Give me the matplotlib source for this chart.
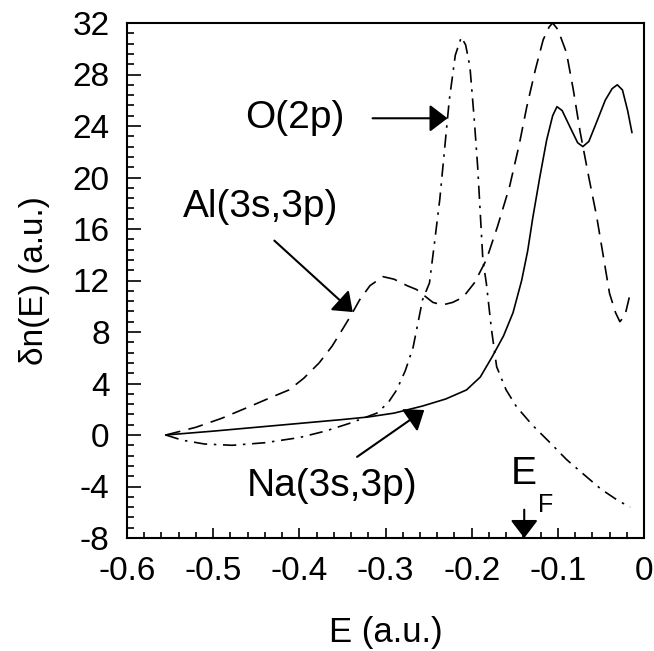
import matplotlib
matplotlib.use("Agg")
import matplotlib.pyplot as plt
from matplotlib.ticker import MultipleLocator

plt.rcParams['font.family'] = ['Liberation Sans', 'DejaVu Sans']

# Na(3s,3p) - solid
na_x = [-0.555, -0.50, -0.45, -0.40, -0.35, -0.32, -0.29, -0.257, -0.23, -0.206,
        -0.19, -0.176, -0.163, -0.152, -0.142, -0.135, -0.129, -0.121, -0.113,
        -0.106, -0.101, -0.095, -0.085, -0.077, -0.071, -0.064, -0.055, -0.045,
        -0.037, -0.031, -0.025, -0.019, -0.014]
na_y = [0.0, 0.3, 0.6, 0.9, 1.2, 1.4, 1.7, 2.25, 2.8, 3.5,
        4.5, 6.1, 7.7, 9.5, 12.0, 14.3, 16.9, 20.0, 22.9,
        24.8, 25.5, 25.2, 23.8, 22.7, 22.4, 22.8, 24.3, 26.0,
        26.9, 27.2, 26.8, 25.2, 23.5]

# Al(3s,3p) - dashed
al_x = [-0.555, -0.52, -0.49, -0.458, -0.43, -0.412, -0.395, -0.377, -0.362, -0.35,
        -0.34, -0.33, -0.318, -0.303, -0.29, -0.275, -0.264, -0.245, -0.234, -0.222,
        -0.21, -0.197, -0.183, -0.17, -0.156, -0.145, -0.136, -0.126, -0.117, -0.11,
        -0.106, -0.10, -0.09, -0.082, -0.074, -0.064, -0.055, -0.047, -0.04, -0.033,
        -0.028, -0.022, -0.016]
al_y = [0.0, 0.6, 1.3, 2.2, 3.0, 3.5, 4.4, 5.6, 6.9, 8.2,
        9.3, 10.5, 11.6, 12.3, 12.1, 11.6, 11.3, 10.3, 10.1, 10.3,
        10.7, 11.8, 13.6, 16.2, 19.3, 22.5, 25.5, 28.4, 30.7, 31.7,
        32.0, 31.5, 29.7, 26.8, 23.5, 20.0, 17.0, 13.8, 11.0, 9.5,
        8.8, 9.3, 11.0]

# O(2p) - dash-dot
o_x = [-0.555, -0.536, -0.51, -0.478, -0.44, -0.40, -0.37, -0.342, -0.31, -0.297,
       -0.287, -0.277, -0.268, -0.257, -0.249, -0.243, -0.237, -0.231, -0.226, -0.219,
       -0.212, -0.207, -0.202, -0.197, -0.193, -0.187, -0.183, -0.177, -0.171, -0.16,
       -0.148, -0.13, -0.109, -0.09, -0.071, -0.05, -0.03, -0.016]
o_y = [0.0, -0.4, -0.7, -0.8, -0.6, -0.2, 0.3, 0.9, 1.7, 2.5,
       3.5, 5.0, 6.8, 10.5, 11.8, 15.0, 18.3, 22.5, 26.0, 29.5,
       30.9, 30.3, 28.6, 24.5, 20.8, 13.6, 11.8, 8.2, 5.3, 3.5,
       2.2, 0.8, -0.6, -1.9, -3.0, -4.2, -5.1, -5.6]

x_ticks = [-0.6, -0.5, -0.4, -0.3, -0.2, -0.1, 0.0]
x_ticklabels = ["-0.6", "-0.5", "-0.4", "-0.3", "-0.2", "-0.1", "0"]
y_ticks = [-8, -4, 0, 4, 8, 12, 16, 20, 24, 28, 32]
y_ticklabels = ["-8", "-4", "0", "4", "8", "12", "16", "20", "24", "28", "32"]
fermi_energy = -0.139

fig = plt.figure(figsize=(6.54, 6.51), dpi=100)
ax = fig.add_axes([127/654, 1-538/651, (644-127)/654, (538-23)/651])

lw = 1.2
ax.plot(na_x, na_y, color='black', lw=lw, linestyle='-')
ax.plot(al_x, al_y, color='black', lw=lw, linestyle=(0, (9, 5)))
ax.plot(o_x, o_y, color='black', lw=lw, linestyle=(0, (8, 4, 1.5, 4)))

ax.set_xlim(-0.6, 0.0)
ax.set_ylim(-8, 32)
ax.set_xticks(x_ticks)
ax.set_xticklabels(x_ticklabels)
ax.set_yticks(y_ticks)
ax.set_yticklabels(y_ticklabels)
ax.xaxis.set_minor_locator(MultipleLocator(0.02))
ax.yaxis.set_minor_locator(MultipleLocator(0.8))
ax.tick_params(which='both', direction='in', top=False, right=False, labelsize=24,
               width=1.2)
ax.tick_params(axis='y', which='major', length=10, pad=12.5)
ax.tick_params(axis='y', which='minor', length=5)
ax.tick_params(axis='x', which='major', length=7, pad=13)
ax.tick_params(axis='x', which='minor', length=4)
for s in ax.spines.values():
    s.set_linewidth(1.5)

ax.set_xlabel("E (a.u.)", fontsize=25, labelpad=21)
ax.set_ylabel("δn(E) (a.u.)", fontsize=24, labelpad=16)

aprops = dict(arrowstyle='-|>,head_length=0.55,head_width=0.42', color='black',
              lw=1.5, shrinkA=0, shrinkB=0, mutation_scale=20)

ax.text(-0.405, 24.6, "O(2p)", fontsize=28, ha='center', va='center')
ax.annotate('', xy=(-0.228, 24.6), xytext=(-0.315, 24.6), arrowprops=aprops)

ax.text(-0.445, 17.7, "Al(3s,3p)", fontsize=28, ha='center', va='center')
ax.annotate('', xy=(-0.338, 9.55), xytext=(-0.429, 15.1), arrowprops=aprops)

ax.text(-0.362, -4.0, "Na(3s,3p)", fontsize=28, ha='center', va='center')
ax.annotate('', xy=(-0.255, 1.94), xytext=(-0.333, -1.7), arrowprops=aprops)

ax.text(fermi_energy, -3.0, "E", fontsize=28, ha='center', va='center')
ax.text(fermi_energy + 0.0245, -5.44, "F", fontsize=18, ha='center', va='center')
ax.annotate('', xy=(fermi_energy, -8), xytext=(fermi_energy, -5.8), arrowprops=aprops)

fig.savefig("out.png", dpi=100)
